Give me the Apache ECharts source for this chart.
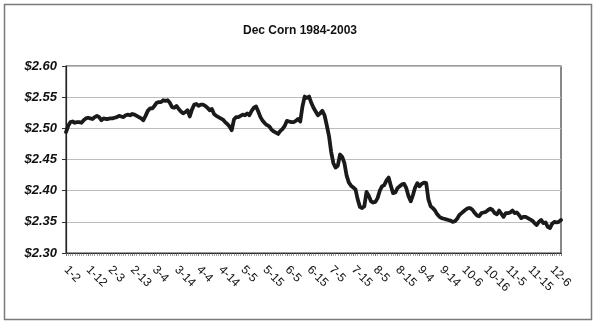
<!DOCTYPE html>
<html>
<head>
<meta charset="utf-8">
<script src="https://cdn.jsdelivr.net/npm/echarts@6/dist/echarts.min.js"></script>
<style>
  html, body { margin: 0; padding: 0; background: #ffffff; }
  #chart { width: 600px; height: 324px; }
</style>
</head>
<body>
<div id="chart"></div>
<script>
// Seasonal average price path for December corn futures, 1984-2003 (one value per trading day)
const titleText = 'Dec Corn 1984-2003';

// Tick labels shown every 10 trading days
const tickLabels = ['1-2', '1-12', '2-3', '2-13', '3-4', '3-14', '4-4', '4-14', '5-5', '5-15',
  '6-5', '6-15', '7-5', '7-15', '8-5', '8-15', '9-4', '9-14', '10-6', '10-16', '11-5', '11-15', '12-6'];

// Average price, $/bushel
const prices = [
  2.494, 2.504, 2.510, 2.511, 2.509, 2.510, 2.510, 2.509, 2.513, 2.516,
  2.517, 2.516, 2.515, 2.518, 2.520, 2.518, 2.513, 2.516, 2.515, 2.515,
  2.516, 2.516, 2.517, 2.518, 2.520, 2.519, 2.518, 2.521, 2.522, 2.521,
  2.523, 2.522, 2.520, 2.518, 2.516, 2.513, 2.520, 2.528, 2.532, 2.532,
  2.536, 2.541, 2.542, 2.542, 2.545, 2.544, 2.545, 2.541, 2.534, 2.533,
  2.536, 2.531, 2.527, 2.524, 2.526, 2.529, 2.519, 2.530, 2.538, 2.539,
  2.536, 2.538, 2.538, 2.536, 2.533, 2.529, 2.531, 2.523, 2.520, 2.518,
  2.516, 2.514, 2.510, 2.507, 2.503, 2.497, 2.514, 2.518, 2.518, 2.520,
  2.522, 2.521, 2.524, 2.521, 2.528, 2.533, 2.535, 2.527, 2.518, 2.512,
  2.508, 2.505, 2.503, 2.498, 2.495, 2.493, 2.491, 2.496, 2.499, 2.504,
  2.512, 2.511, 2.510, 2.510, 2.512, 2.515, 2.511, 2.535, 2.551, 2.549,
  2.551, 2.541, 2.533, 2.527, 2.521, 2.524, 2.528, 2.521, 2.505, 2.488,
  2.462, 2.444, 2.437, 2.440, 2.458, 2.454, 2.444, 2.424, 2.413, 2.408,
  2.405, 2.402, 2.386, 2.374, 2.372, 2.375, 2.398, 2.392, 2.383, 2.381,
  2.382, 2.388, 2.400, 2.407, 2.409, 2.416, 2.421, 2.408, 2.396, 2.397,
  2.404, 2.407, 2.410, 2.411, 2.404, 2.391, 2.383, 2.393, 2.405, 2.412,
  2.407, 2.411, 2.413, 2.412, 2.386, 2.375, 2.372, 2.368, 2.362, 2.358,
  2.356, 2.355, 2.354, 2.353, 2.352, 2.350, 2.351, 2.355, 2.361, 2.364,
  2.367, 2.370, 2.372, 2.372, 2.369, 2.364, 2.360, 2.359, 2.364, 2.365,
  2.366, 2.369, 2.371, 2.369, 2.364, 2.362, 2.368, 2.363, 2.358, 2.364,
  2.364, 2.365, 2.368, 2.364, 2.365, 2.361, 2.356, 2.358, 2.358, 2.356,
  2.354, 2.352, 2.348, 2.345, 2.350, 2.353, 2.348, 2.349, 2.342, 2.340,
  2.347, 2.350, 2.349, 2.350, 2.353
];

const yMin = 2.30, yMax = 2.60, yStep = 0.05;
const labelEvery = 10;

const seriesData = prices.map((v, i) => [i, v]);

const chart = echarts.init(document.getElementById('chart'), null, { renderer: 'canvas' });

chart.setOption({
  backgroundColor: '#ffffff',
  animation: false,
  title: {
    text: titleText,
    left: 'center',
    top: 20,
    textStyle: {
      fontFamily: 'Liberation Sans, Arial, sans-serif',
      fontSize: 12,
      fontWeight: 'bold',
      color: '#111'
    }
  },
  graphic: [{
    type: 'rect',
    shape: { x: 4.5, y: 4.5, width: 587, height: 315 },
    style: { fill: 'none', stroke: '#7a7a7a', lineWidth: 1.5 },
    silent: true,
    z: -1
  }],
  grid: {
    left: 66,
    right: 39,
    top: 66,
    bottom: 71,
    show: true,
    borderColor: '#3a3a3a',
    borderWidth: 1.2,
    backgroundColor: 'transparent'
  },
  xAxis: {
    type: 'value',
    min: 0,
    max: prices.length - 1,
    interval: labelEvery,
    axisLine: { show: true, lineStyle: { color: '#222', width: 1.2 } },
    axisTick: { show: true, inside: false, length: 3, lineStyle: { color: '#555', width: 0.8 } },
    minorTick: { show: true, splitNumber: labelEvery, length: 3, lineStyle: { color: '#666', width: 0.6 } },
    splitLine: { show: false },
    axisLabel: {
      rotate: -45,
      margin: 15,
      showMaxLabel: false,
      fontFamily: 'Liberation Sans, Arial, sans-serif',
      fontSize: 12,
      color: '#111',
      formatter: function (v) {
        const k = v / labelEvery;
        return Number.isInteger(k) && tickLabels[k] ? tickLabels[k] : '';
      }
    }
  },
  yAxis: {
    type: 'value',
    min: yMin,
    max: yMax,
    interval: yStep,
    axisLine: { show: true, lineStyle: { color: '#222', width: 1.2 } },
    axisTick: { show: true, inside: false, length: 4, lineStyle: { color: '#333', width: 1 } },
    splitLine: { show: true, lineStyle: { color: '#bcbcbc', width: 1 } },
    axisLabel: {
      margin: 9,
      fontFamily: 'Liberation Sans, Arial, sans-serif',
      fontSize: 13,
      fontWeight: 'bold',
      fontStyle: 'italic',
      color: '#111',
      formatter: function (v) { return '$' + v.toFixed(2); }
    }
  },
  series: [{
    type: 'line',
    data: seriesData,
    showSymbol: false,
    smooth: false,
    lineStyle: { color: '#1a1a1a', width: 3.8, join: 'round', cap: 'round' },
    z: 3
  }]
});
</script>
</body>
</html>
